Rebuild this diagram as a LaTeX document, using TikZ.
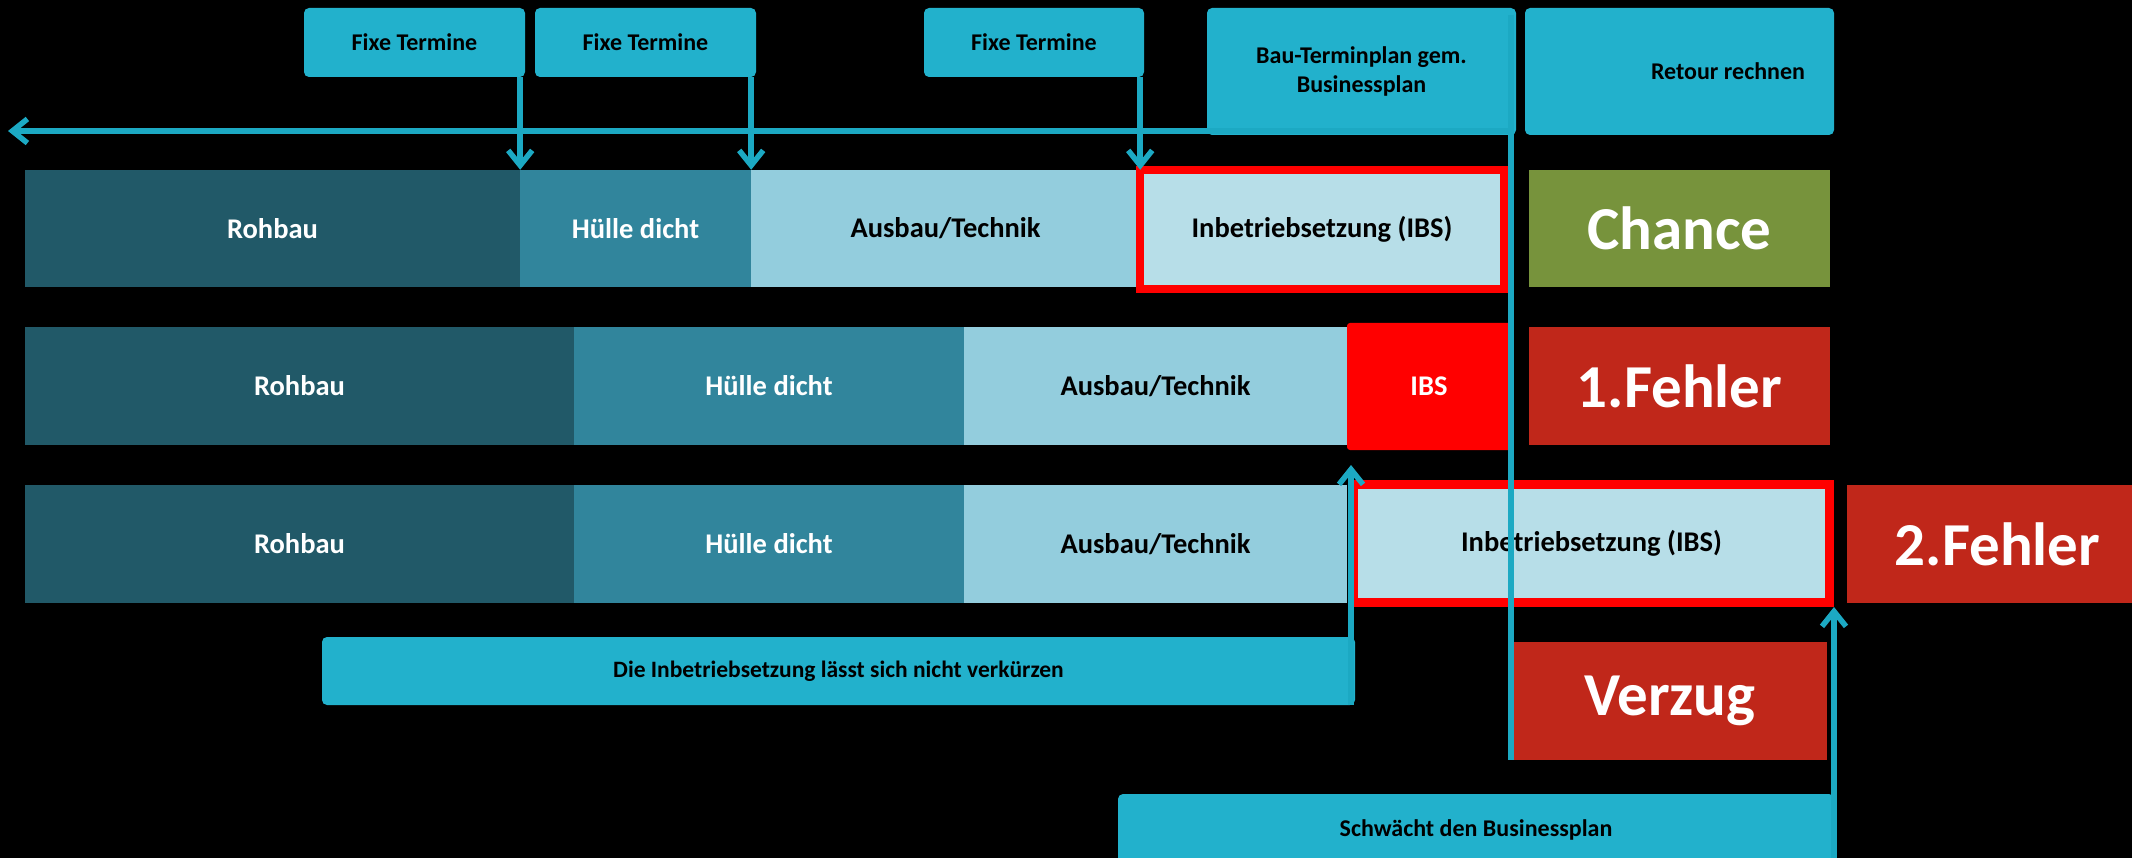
\documentclass[tikz,border=0pt]{standalone}
\usepackage{fontspec}
\setmainfont{Carlito}
\usetikzlibrary{arrows.meta}
\definecolor{cyanbox}{HTML}{22B1CC}
\definecolor{cyanline}{HTML}{1CA9C3}
\definecolor{rohbau}{HTML}{215968}
\definecolor{huelle}{HTML}{31859C}
\definecolor{ausbau}{HTML}{93CDDD}
\definecolor{ibs}{HTML}{B7DEE8}
\definecolor{chance}{HTML}{77933C}
\definecolor{fehler}{HTML}{C0271A}
\definecolor{redb}{HTML}{FF0000}
\begin{document}
\begin{tikzpicture}[x=1pt,y=-1pt,
  box/.style={rectangle, inner sep=0pt, anchor=center, align=center, font=\bfseries\fontsize{24}{29}\selectfont},
  note/.style={box, fill=cyanbox, rounded corners=5pt, text=black},
  bar/.style={box, font=\bfseries\fontsize{28.5}{34}\selectfont},
  darkbar/.style={bar, text=white},
  big/.style={box, text=white, font=\bfseries\fontsize{61}{70}\selectfont},
  conn/.style={draw=cyanline, line width=5.5pt},
  arr/.style={conn, -{Straight Barb[length=15pt,width=24pt]}},
]
\fill[black] (0,0) rectangle (2132,858);
\useasboundingbox (0,0) rectangle (2132,858);
\clip (0,0) rectangle (2132,858);

% top notes
\node[note, minimum width=221pt, minimum height=69pt] (fix1) at (414.5,42.5) {Fixe Termine};
\node[note, minimum width=221pt, minimum height=69pt] (fix2) at (645.5,42.5) {Fixe Termine};
\node[note, minimum width=220pt, minimum height=69pt] (fix3) at (1034,42.5) {Fixe Termine};
\node[note, minimum width=309pt, minimum height=127pt] (plan) at (1361.5,71.5) {Bau-Terminplan gem.\\Businessplan};
\node[note, minimum width=309pt, minimum height=127pt] (retour) at (1679.5,71.5) {\makebox[251pt][r]{Retour rechnen}};

% row 1
\node[darkbar, fill=rohbau, minimum width=495pt, minimum height=117pt] (r1a) at (272.5,228.5) {Rohbau};
\node[darkbar, fill=huelle, minimum width=231pt, minimum height=117pt] (r1b) at (635.5,228.5) {Hülle dicht};
\node[bar, fill=ausbau, minimum width=389pt, minimum height=117pt] (r1c) at (945.5,228.5) {Ausbau/Technik};
\node[bar, fill=ibs, draw=redb, line width=8pt, minimum width=364pt, minimum height=119pt] (r1d) at (1322,229.5) {Inbetriebsetzung (IBS)};
\node[big, fill=chance, minimum width=301pt, minimum height=117pt] (chance) at (1679.5,228.5) {Chance};

% row 2
\node[darkbar, fill=rohbau, minimum width=549pt, minimum height=118pt] (r2a) at (299.5,386) {Rohbau};
\node[darkbar, fill=huelle, minimum width=390pt, minimum height=118pt] (r2b) at (769,386) {Hülle dicht};
\node[bar, fill=ausbau, minimum width=383pt, minimum height=118pt] (r2c) at (1155.5,386) {Ausbau/Technik};
\node[darkbar, fill=redb, rounded corners=3pt, minimum width=164pt, minimum height=127pt] (r2d) at (1429,386.5) {IBS};
\node[big, fill=fehler, minimum width=301pt, minimum height=118pt] (fehler1) at (1679.5,386) {1.Fehler};

% row 3
\node[darkbar, fill=rohbau, minimum width=549pt, minimum height=118pt] (r3a) at (299.5,544) {Rohbau};
\node[darkbar, fill=huelle, minimum width=390pt, minimum height=118pt] (r3b) at (769,544) {Hülle dicht};
\node[bar, fill=ausbau, minimum width=383pt, minimum height=118pt] (r3c) at (1155.5,544) {Ausbau/Technik};
\node[bar, fill=ibs, draw=redb, line width=9pt, minimum width=476pt, minimum height=118pt] (r3d) at (1591.5,543.5) {Inbetriebsetzung (IBS)};
\node[big, fill=fehler, minimum width=301pt, minimum height=118pt] (fehler2) at (1997.5,544) {2.Fehler};

% bottom
\node[note, minimum width=1033pt, minimum height=68pt, font=\bfseries\fontsize{23.5}{28}\selectfont] (die) at (838.5,671) {Die Inbetriebsetzung lässt sich nicht verkürzen};
\node[big, fill=fehler, minimum width=314pt, minimum height=118pt] (verzug) at (1670,701) {Verzug};
\node[note, minimum width=716pt, minimum height=72pt] (schw) at (1476,830) {Schwächt den Businessplan};

% connectors
\coordinate (top) at (1511,15);
\coordinate (corner) at (1511,131);
\coordinate (leftend) at (8,131);
\coordinate (t1) at (1351,465);

\draw[conn] (top) -- (top |- verzug.south);
\draw[arr] (corner) -- (leftend);
\draw[arr] (fix1.south -| r1a.east) -- (r1a.north east);
\draw[arr] (fix2.south -| r1b.east) -- (r1b.north east);
\draw[arr] (fix3.south -| r1c.east) -- (r1c.north east);
\draw[arr] (die.south -| t1) -- (t1);
\draw[arr] (schw.south -| r3d.south east) -- (r3d.south east);
\end{tikzpicture}
\end{document}
